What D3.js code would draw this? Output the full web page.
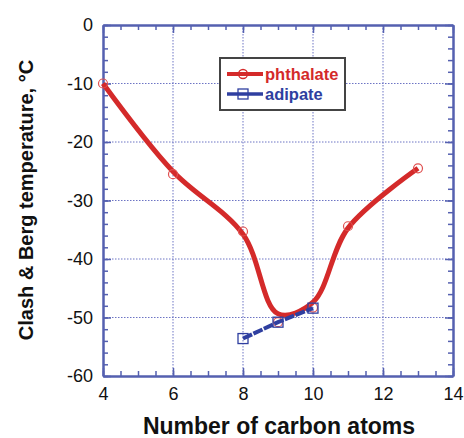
<!DOCTYPE html>
<html><head><meta charset="utf-8">
<script src="https://cdn.jsdelivr.net/npm/d3@7"></script>
<style>body{margin:0;background:#fff;} svg{display:block;font-family:"Liberation Sans",Arial,sans-serif;}</style>
</head><body>
<script>
const phthalateX = [4, 6, 8, 9, 10, 11, 13];
const phthalateY = [-10, -25.5, -35.3, -50.8, -48.3, -34.4, -24.5];
const adipateX = [8, 9, 10];
const adipateY = [-53.6, -50.8, -48.4];
const xTicks = [4, 6, 8, 10, 12, 14];
const yTicks = [0, -10, -20, -30, -40, -50, -60];
const seriesNames = ["phthalate", "adipate"];

const W = 464, H = 438;
const m = {l: 103, r: 11, t: 25, b: 62};
const svg = d3.select("body").append("svg").attr("width", W).attr("height", H);
const x = d3.scaleLinear().domain([4, 14]).range([m.l, W - m.r]);
const y = d3.scaleLinear().domain([-60, 0]).range([H - m.b, m.t]);
const axisCol = "#5560b0";
const red = "#d42a2a", blue = "#2f3fa0";
const fmt = d => String(d);

// grid
const g = svg.append("g");
g.selectAll(".gx").data(xTicks.slice(1, -1)).join("line")
  .attr("x1", d => x(d)).attr("x2", d => x(d)).attr("y1", y(0)).attr("y2", y(-60))
  .attr("stroke", "#6d74c4").attr("stroke-width", 1).attr("stroke-dasharray", "1.5,1.5");
g.selectAll(".gy").data(yTicks.slice(1, -1)).join("line")
  .attr("y1", d => y(d)).attr("y2", d => y(d)).attr("x1", x(4)).attr("x2", x(14))
  .attr("stroke", "#6d74c4").attr("stroke-width", 1).attr("stroke-dasharray", "1.5,1.5");

function styleAxis(sel) {
  sel.select(".domain").attr("stroke", axisCol).attr("stroke-width", 2);
  sel.selectAll(".tick line").attr("stroke", axisCol).attr("stroke-width", 1.5);
  sel.selectAll("text").attr("fill", "#111").attr("font-size", 18);
}
const xMinor = d3.range(4, 14.01, 0.5);
const yMinor = d3.range(-60, 0.01, 2);
svg.append("g").attr("transform", `translate(0,${y(-60)})`)
  .call(d3.axisBottom(x).tickValues(xMinor).tickSize(-5).tickFormat("").tickSizeOuter(0)).call(styleAxis);
svg.append("g").attr("transform", `translate(0,${y(-60)})`)
  .call(d3.axisBottom(x).tickValues(xTicks).tickSize(-8).tickPadding(11).tickSizeOuter(0).tickFormat(fmt)).call(styleAxis);
svg.append("g").attr("transform", `translate(0,${y(0)})`)
  .call(d3.axisTop(x).tickValues(xMinor).tickSize(-5).tickFormat("").tickSizeOuter(0)).call(styleAxis);
svg.append("g").attr("transform", `translate(0,${y(0)})`)
  .call(d3.axisTop(x).tickValues(xTicks).tickSize(-8).tickFormat("").tickSizeOuter(0)).call(styleAxis);
svg.append("g").attr("transform", `translate(${x(4)},0)`)
  .call(d3.axisLeft(y).tickValues(yMinor).tickSize(-5).tickFormat("").tickSizeOuter(0)).call(styleAxis);
svg.append("g").attr("transform", `translate(${x(4)},0)`)
  .call(d3.axisLeft(y).tickValues(yTicks).tickSize(-8).tickPadding(10).tickSizeOuter(0).tickFormat(fmt)).call(styleAxis);
svg.append("g").attr("transform", `translate(${x(14)},0)`)
  .call(d3.axisRight(y).tickValues(yMinor).tickSize(-5).tickFormat("").tickSizeOuter(0)).call(styleAxis);
svg.append("g").attr("transform", `translate(${x(14)},0)`)
  .call(d3.axisRight(y).tickValues(yTicks).tickSize(-8).tickFormat("").tickSizeOuter(0)).call(styleAxis);

const ph = phthalateX.map((d, i) => [d, phthalateY[i]]);
const ad = adipateX.map((d, i) => [d, adipateY[i]]);
// light smoothing of the fitted curve (as drawn by a smoothing-spline fit in the original)
const w = 0.08;
const phSmooth = ph.map((p, i) => (i === 0 || i === ph.length - 1) ? p :
  [p[0], (1 - 2 * w) * p[1] + w * (ph[i - 1][1] + ph[i + 1][1])]);
const line = d3.line().x(d => x(d[0])).y(d => y(d[1]));
svg.append("path").datum(phSmooth).attr("d", line.curve(d3.curveCatmullRom.alpha(0.5)))
  .attr("fill", "none").attr("stroke", red).attr("stroke-width", 5);
svg.selectAll(".pc").data(ph).join("circle")
  .attr("cx", d => x(d[0])).attr("cy", d => y(d[1])).attr("r", 4.5)
  .attr("fill", "none").attr("stroke", "#e05050").attr("stroke-width", 1.2);

svg.append("path").attr("d", d3.line().x(d => x(d[0])).y(d => y(d[1]))(ad))
  .attr("fill", "none").attr("stroke", blue).attr("stroke-width", 4).attr("stroke-dasharray", "10,1.5");
svg.selectAll(".as").data(ad).join("rect")
  .attr("x", d => x(d[0]) - 5).attr("y", d => y(d[1]) - 5).attr("width", 10).attr("height", 10)
  .attr("fill", "none").attr("stroke", blue).attr("stroke-width", 1.3);

// legend
const lg = svg.append("g");
lg.append("rect").attr("x", 220).attr("y", 58).attr("width", 125).attr("height", 52)
  .attr("fill", "#fff").attr("stroke", "#444").attr("stroke-width", 2);
const cols = [red, blue];
seriesNames.forEach((n, i) => {
  const yy = 74 + i * 20;
  lg.append("line").attr("x1", 227).attr("x2", 263).attr("y1", yy).attr("y2", yy)
    .attr("stroke", cols[i]).attr("stroke-width", i === 0 ? 4 : 3.5);
  if (i === 0) lg.append("circle").attr("cx", 243).attr("cy", yy).attr("r", 4.5).attr("fill", "none").attr("stroke", cols[i]).attr("stroke-width", 1.3);
  else lg.append("rect").attr("x", 238).attr("y", yy - 5).attr("width", 10).attr("height", 10).attr("fill", "none").attr("stroke", cols[i]).attr("stroke-width", 1.3);
  lg.append("text").attr("x", 265).attr("y", yy + 6).attr("font-size", 16.5).attr("font-weight", "bold")
    .attr("fill", cols[i]).text(n);
});

svg.append("text").attr("x", 279).attr("y", 434).attr("text-anchor", "middle")
  .attr("font-size", 23).attr("font-weight", "bold").attr("fill", "#111").text("Number of carbon atoms");
svg.append("text").attr("transform", "translate(33,200) rotate(-90)").attr("text-anchor", "middle")
  .attr("font-size", 20).attr("font-weight", "bold").attr("fill", "#111").text("Clash & Berg temperature, °C");
</script>
</body></html>
